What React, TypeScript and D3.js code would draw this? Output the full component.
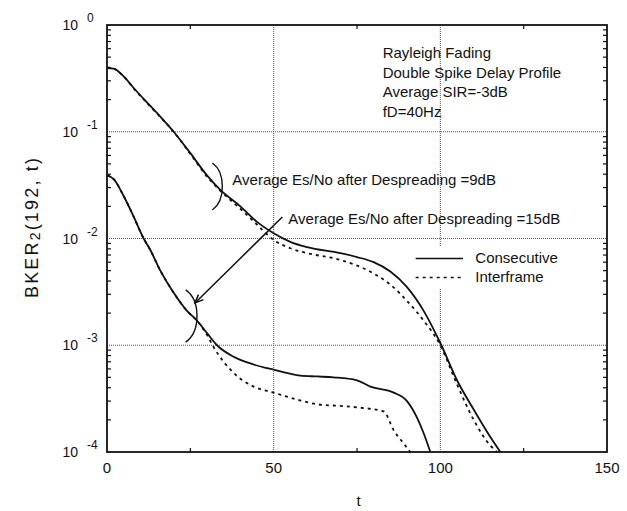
import React from 'react';
import * as d3 from 'd3';

// t values and BKER values
const upperT = [0, 2, 5, 8, 15, 20, 25, 30, 34, 40, 45, 50, 55, 60, 70, 75, 80, 85, 90, 95, 100, 105, 110, 115, 118];
const upperConsecutive = [0.395, 0.39, 0.33, 0.257, 0.15, 0.1, 0.063, 0.039, 0.0285, 0.02, 0.0143, 0.0112, 0.0093, 0.0083, 0.0073, 0.0067, 0.006, 0.0049, 0.0035, 0.0021, 0.00105, 0.00047, 0.00025, 0.000138, 0.0001];
const upperT2 = [0, 2, 5, 8, 15, 20, 25, 30, 34, 40, 45, 50, 55, 60, 70, 80, 85, 90, 95, 100, 105, 110, 115, 117];
const upperInterframe = [0.4, 0.39, 0.33, 0.255, 0.148, 0.1, 0.062, 0.038, 0.028, 0.019, 0.0135, 0.0097, 0.0081, 0.0073, 0.0063, 0.0047, 0.0037, 0.0026, 0.0017, 0.001, 0.00043, 0.0002, 0.000115, 0.0001];

const lowerT = [0, 2, 5, 8, 11, 13, 16, 20, 24, 27, 30, 33, 38, 44, 50, 58, 63, 68, 75, 79, 86, 90, 93, 95, 97];
const lowerConsecutive = [0.039, 0.036, 0.025, 0.016, 0.01, 0.0078, 0.005, 0.0031, 0.0021, 0.0017, 0.0013, 0.001, 0.00078, 0.00066, 0.00059, 0.00052, 0.00051, 0.0005, 0.00047, 0.00041, 0.00036, 0.0003, 0.00021, 0.00015, 0.0001];
const lowerT2 = [0, 2, 5, 8, 11, 13, 16, 20, 24, 27, 30, 32, 35, 38, 44, 50, 57, 63, 70, 76, 83, 86, 89, 91];
const lowerInterframe = [0.039, 0.036, 0.025, 0.016, 0.01, 0.0078, 0.005, 0.0031, 0.0021, 0.0017, 0.00125, 0.00096, 0.0007, 0.00055, 0.00041, 0.00036, 0.00031, 0.00028, 0.00027, 0.00026, 0.00024, 0.00016, 0.00012, 0.0001];

const xTicks = [0, 50, 100, 150];
const xMinorTicks = [25, 75, 125];
const yExponents = [0, -1, -2, -3, -4];
const infoLines = ['Rayleigh Fading', 'Double Spike Delay Profile', 'Average SIR=-3dB', 'fD=40Hz'];
const label9 = 'Average Es/No after Despreading =9dB';
const label15 = 'Average Es/No after Despreading =15dB';
const legendItems = [
  { name: 'Consecutive', dash: null },
  { name: 'Interframe', dash: '3,4' },
];

const W = 627;
const H = 511;
const margin = { top: 25, right: 20, bottom: 59, left: 107 };
const font = 'Arial, "Liberation Sans", Helvetica, sans-serif';

export default function App() {
  const x = d3.scaleLinear().domain([0, 150]).range([margin.left, W - margin.right]);
  const y = d3.scaleLog().domain([1e-4, 1]).range([H - margin.bottom, margin.top]);

  const line = (ts: number[], vs: number[]) =>
    d3.line<number>().x((_, i) => x(ts[i])).y((v) => y(v)).curve(d3.curveMonotoneX)(vs) || '';

  // log minor ticks 2..9 in every decade
  const minor: number[] = [];
  for (let e = -4; e < 0; e++) for (let m = 2; m <= 9; m++) minor.push(m * Math.pow(10, e));

  const x0 = x(0), x1 = x(150), y0 = y(1e-4), y1 = y(1);
  const ink = '#111';

  // bracket ")" shape, in data coords
  const bracket = (tL: number, tR: number, vTop: number, vBot: number) => {
    const xl = x(tL), xr = x(tR), yt = y(vTop), yb = y(vBot), ym = (yt + yb) / 2;
    return `M${xl},${yt} Q${xr},${yt + (ym - yt) * 0.3} ${xr},${ym} Q${xr},${yb - (yb - ym) * 0.3} ${xl},${yb}`;
  };

  const ax = x(52.6), ay = y(0.0159), bx = x(26.4), by = y(0.00249);
  const ang = Math.atan2(by - ay, bx - ax);
  const head = 9;
  const legY = y(0.0065);

  return (
    <div>
      <style>{'body{margin:0}'}</style>
      <svg width={W} height={H} style={{ display: 'block', background: '#fff' }} fontFamily={font}>
        {/* grid */}
        {[50, 100].map((t) => (
          <line key={'gx' + t} x1={x(t)} x2={x(t)} y1={y1} y2={y0} stroke="#555" strokeWidth={1} strokeDasharray="1,1" />
        ))}
        {[-1, -2, -3].map((e) => (
          <line key={'gy' + e} x1={x0} x2={x1} y1={y(Math.pow(10, e))} y2={y(Math.pow(10, e))} stroke="#555" strokeWidth={1} strokeDasharray="1,1" />
        ))}

        {/* minor ticks */}
        {minor.map((v, i) => (
          <g key={'m' + i}>
            <line x1={x0} x2={x0 + 4} y1={y(v)} y2={y(v)} stroke={ink} strokeWidth={1.2} />
            <line x1={x1} x2={x1 - 4} y1={y(v)} y2={y(v)} stroke={ink} strokeWidth={1.2} />
          </g>
        ))}
        {xMinorTicks.map((t) => (
          <g key={'xm' + t}>
            <line x1={x(t)} x2={x(t)} y1={y0} y2={y0 - 4} stroke={ink} strokeWidth={1.2} />
            <line x1={x(t)} x2={x(t)} y1={y1} y2={y1 + 4} stroke={ink} strokeWidth={1.2} />
          </g>
        ))}

        {/* info text */}
        <g fontSize={15} fill={ink}>
          {infoLines.map((s, i) => (
            <text key={s} x={x(82.7)} y={y(0.49) + i * 19.7}>{s}</text>
          ))}
        </g>

        {/* legend */}
        <rect x={x(91)} y={y(0.0085)} width={x(140) - x(91)} height={y(0.0034) - y(0.0085)} fill="#fff" />
        {legendItems.map((d, i) => (
          <g key={d.name}>
            <line x1={x(92.6)} x2={x(106.8)} y1={legY + i * 19} y2={legY + i * 19} stroke={ink} strokeWidth={1.6} strokeDasharray={d.dash || undefined} />
            <text x={x(110.5)} y={legY + i * 19 + 5} fontSize={15} fill={ink}>{d.name}</text>
          </g>
        ))}

        {/* curves */}
        <g fill="none" stroke={ink} strokeWidth={1.8}>
          <path d={line(upperT, upperConsecutive)} />
          <path d={line(upperT2, upperInterframe)} strokeDasharray="3,4" />
          <path d={line(lowerT, lowerConsecutive)} />
          <path d={line(lowerT2, lowerInterframe)} strokeDasharray="3,4" />
        </g>

        {/* annotations */}
        <path d={bracket(31.6, 34.6, 0.051, 0.0185)} fill="none" stroke={ink} strokeWidth={1.4} />
        <path d={bracket(23.6, 27, 0.0033, 0.00107)} fill="none" stroke={ink} strokeWidth={1.4} />
        <text x={x(37.6)} y={y(0.0316)} fontSize={15} fill={ink}>{label9}</text>
        <text x={x(54.4)} y={y(0.0137)} fontSize={15} fill={ink}>{label15}</text>
        <line x1={ax} y1={ay} x2={bx} y2={by} stroke={ink} strokeWidth={1.5} />
        <path
          d={`M${bx - head * Math.cos(ang - 0.4)},${by - head * Math.sin(ang - 0.4)} L${bx},${by} L${bx - head * Math.cos(ang + 0.4)},${by - head * Math.sin(ang + 0.4)}`}
          fill="none"
          stroke={ink}
          strokeWidth={1.5}
        />

        {/* frame */}
        <rect x={x0} y={y1} width={x1 - x0} height={y0 - y1} fill="none" stroke={ink} strokeWidth={1.8} />

        {/* y tick labels */}
        {yExponents.map((e) => (
          <g key={'yl' + e} fill={ink}>
            <text x={x0 - 29} y={y(Math.pow(10, e)) + 5} fontSize={14} textAnchor="end">10</text>
            <text x={x0 - 20} y={y(Math.pow(10, e)) - 3} fontSize={12}>{e === 0 ? '0' : String(e)}</text>
          </g>
        ))}

        {/* x tick labels */}
        {xTicks.map((t) => (
          <text key={'xl' + t} x={x(t)} y={y0 + 21} fontSize={15} textAnchor="middle" fill={ink}>{t}</text>
        ))}

        {/* axis titles */}
        <text x={x(75.5)} y={H - 5} fontSize={15} textAnchor="middle" fill={ink}>t</text>
        <text
          transform={`translate(38, 228) rotate(-90)`}
          fontSize={18}
          textAnchor="middle"
          fill={ink}
          textLength={140}
          lengthAdjust="spacing"
        >
          BKER<tspan fontSize={14} dy={2}>2</tspan><tspan dy={-2}>(192, t)</tspan>
        </text>
      </svg>
    </div>
  );
}
